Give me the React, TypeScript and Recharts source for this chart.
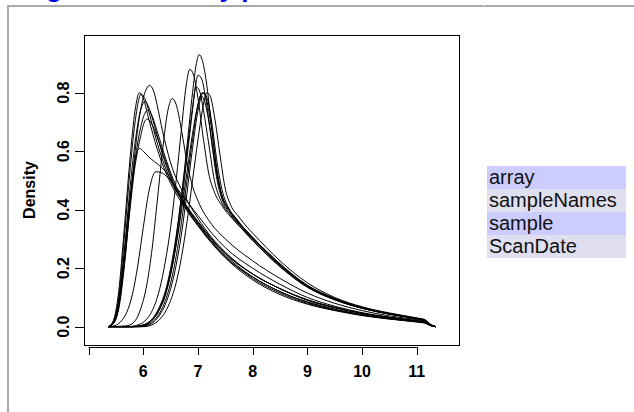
import React from 'react';
import { LineChart, Line, XAxis, YAxis, ReferenceLine } from 'recharts';

type Pt = [number, number];

// ---- density curves: [intensity, density] ----
const curve01: Pt[] = [[5.36,0],[5.45,0.02],[5.55,0.12],[5.65,0.33],[5.75,0.56],[5.85,0.74],[5.93,0.8],[6.0,0.78],[6.1,0.71],[6.25,0.61],[6.5,0.49],[6.75,0.41],[7.0,0.345],[7.25,0.29],[7.5,0.238],[8.0,0.17],[8.5,0.12],[9.0,0.083],[9.5,0.058],[10.0,0.04],[10.5,0.027],[11.0,0.017],[11.15,0.014],[11.25,0.004],[11.35,0]];
const curve02: Pt[] = [[5.36,0],[5.45,0.015],[5.55,0.1],[5.65,0.3],[5.75,0.52],[5.85,0.7],[5.96,0.795],[6.05,0.77],[6.15,0.7],[6.3,0.6],[6.5,0.5],[6.75,0.42],[7.0,0.355],[7.25,0.3],[7.5,0.25],[8.0,0.18],[8.5,0.13],[9.0,0.092],[9.5,0.066],[10.0,0.046],[10.5,0.031],[11.0,0.02],[11.15,0.016],[11.25,0.005],[11.35,0]];
const curve03: Pt[] = [[5.36,0],[5.45,0.01],[5.55,0.06],[5.65,0.2],[5.75,0.4],[5.85,0.6],[5.95,0.74],[6.05,0.81],[6.11,0.825],[6.18,0.81],[6.25,0.76],[6.35,0.67],[6.5,0.56],[6.75,0.45],[7.0,0.37],[7.25,0.305],[7.5,0.255],[8.0,0.18],[8.5,0.13],[9.0,0.092],[9.5,0.066],[10.0,0.046],[10.5,0.031],[11.0,0.019],[11.15,0.015],[11.25,0.005],[11.35,0]];
const curve04: Pt[] = [[5.36,0],[5.45,0.012],[5.55,0.08],[5.65,0.25],[5.75,0.46],[5.85,0.63],[5.95,0.74],[6.03,0.77],[6.1,0.75],[6.2,0.69],[6.35,0.59],[6.5,0.51],[6.75,0.42],[7.0,0.35],[7.25,0.29],[7.5,0.24],[8.0,0.165],[8.5,0.115],[9.0,0.08],[9.5,0.057],[10.0,0.04],[10.5,0.027],[11.0,0.017],[11.15,0.013],[11.25,0.004],[11.35,0]];
const curve05: Pt[] = [[5.36,0],[5.45,0.01],[5.55,0.07],[5.65,0.22],[5.75,0.41],[5.85,0.57],[5.95,0.68],[6.03,0.73],[6.08,0.74],[6.15,0.725],[6.25,0.67],[6.4,0.58],[6.6,0.48],[6.8,0.41],[7.0,0.355],[7.25,0.295],[7.5,0.245],[8.0,0.17],[8.5,0.12],[9.0,0.085],[9.5,0.06],[10.0,0.042],[10.5,0.028],[11.0,0.018],[11.15,0.014],[11.25,0.004],[11.35,0]];
const curve06: Pt[] = [[5.36,0],[5.45,0.01],[5.55,0.07],[5.65,0.21],[5.75,0.39],[5.85,0.55],[5.95,0.65],[6.02,0.7],[6.07,0.71],[6.15,0.695],[6.25,0.65],[6.4,0.57],[6.6,0.47],[6.8,0.4],[7.0,0.345],[7.25,0.285],[7.5,0.235],[8.0,0.16],[8.5,0.11],[9.0,0.077],[9.5,0.055],[10.0,0.038],[10.5,0.026],[11.0,0.016],[11.15,0.012],[11.25,0.004],[11.35,0]];
const curve07: Pt[] = [[5.36,0],[5.45,0.015],[5.55,0.09],[5.65,0.25],[5.75,0.43],[5.85,0.57],[5.93,0.61],[6.0,0.6],[6.1,0.58],[6.2,0.565],[6.3,0.55],[6.45,0.52],[6.6,0.47],[6.8,0.41],[7.0,0.36],[7.25,0.3],[7.5,0.25],[8.0,0.18],[8.5,0.13],[9.0,0.09],[9.5,0.064],[10.0,0.045],[10.5,0.03],[11.0,0.019],[11.15,0.015],[11.25,0.005],[11.35,0]];
const curve08: Pt[] = [[5.36,0],[5.5,0.005],[5.6,0.02],[5.7,0.05],[5.8,0.11],[5.9,0.21],[6.0,0.34],[6.1,0.46],[6.23,0.53],[6.35,0.525],[6.5,0.5],[6.75,0.44],[7.0,0.38],[7.25,0.32],[7.5,0.27],[8.0,0.2],[8.5,0.145],[9.0,0.1],[9.5,0.07],[10.0,0.048],[10.5,0.033],[11.0,0.021],[11.15,0.017],[11.25,0.005],[11.35,0]];
const curve09: Pt[] = [[5.36,0],[5.7,0.003],[5.85,0.02],[5.95,0.06],[6.05,0.13],[6.15,0.25],[6.25,0.42],[6.35,0.6],[6.45,0.74],[6.53,0.78],[6.6,0.76],[6.7,0.67],[6.8,0.56],[6.9,0.48],[7.0,0.43],[7.25,0.35],[7.5,0.3],[8.0,0.225],[8.5,0.165],[9.0,0.115],[9.5,0.08],[10.0,0.055],[10.5,0.037],[11.0,0.024],[11.15,0.019],[11.25,0.006],[11.35,0]];
const curve10: Pt[] = [[5.36,0],[5.7,0],[5.9,0.006],[6.0,0.015],[6.1,0.035],[6.2,0.07],[6.3,0.13],[6.4,0.22],[6.5,0.34],[6.6,0.5],[6.7,0.68],[6.78,0.82],[6.85,0.88],[6.92,0.86],[7.0,0.78],[7.1,0.64],[7.2,0.52],[7.3,0.46],[7.45,0.41],[7.6,0.375],[7.8,0.335],[8.0,0.295],[8.5,0.205],[9.0,0.135],[9.5,0.092],[10.0,0.063],[10.5,0.043],[11.0,0.027],[11.15,0.021],[11.25,0.007],[11.35,0]];
const curve11: Pt[] = [[5.36,0],[5.8,0],[6.0,0.004],[6.1,0.012],[6.2,0.03],[6.3,0.06],[6.4,0.11],[6.5,0.19],[6.6,0.3],[6.7,0.45],[6.8,0.62],[6.9,0.8],[6.97,0.9],[7.02,0.93],[7.08,0.91],[7.15,0.84],[7.25,0.68],[7.35,0.52],[7.45,0.44],[7.6,0.39],[7.8,0.345],[8.0,0.305],[8.5,0.215],[9.0,0.14],[9.5,0.095],[10.0,0.065],[10.5,0.045],[11.0,0.028],[11.15,0.022],[11.25,0.007],[11.35,0]];
const curve12: Pt[] = [[5.36,0],[5.8,0],[6.0,0.005],[6.1,0.013],[6.2,0.03],[6.3,0.06],[6.4,0.105],[6.5,0.18],[6.6,0.28],[6.7,0.42],[6.8,0.58],[6.9,0.74],[6.96,0.83],[7.0,0.86],[7.06,0.85],[7.15,0.77],[7.25,0.63],[7.35,0.5],[7.45,0.43],[7.6,0.385],[7.8,0.34],[8.0,0.3],[8.5,0.21],[9.0,0.138],[9.5,0.094],[10.0,0.064],[10.5,0.044],[11.0,0.028],[11.15,0.022],[11.25,0.007],[11.35,0]];
const curve13: Pt[] = [[5.36,0],[5.8,0],[6.0,0.006],[6.1,0.016],[6.2,0.035],[6.3,0.07],[6.4,0.12],[6.5,0.2],[6.6,0.31],[6.7,0.45],[6.8,0.6],[6.9,0.75],[6.96,0.82],[7.02,0.81],[7.1,0.74],[7.2,0.62],[7.3,0.5],[7.42,0.43],[7.6,0.38],[7.8,0.335],[8.0,0.295],[8.5,0.205],[9.0,0.135],[9.5,0.092],[10.0,0.063],[10.5,0.043],[11.0,0.027],[11.15,0.021],[11.25,0.007],[11.35,0]];
const curve14: Pt[] = [[5.36,0],[5.9,0],[6.1,0.006],[6.2,0.018],[6.3,0.04],[6.4,0.075],[6.5,0.13],[6.6,0.21],[6.7,0.32],[6.8,0.46],[6.9,0.61],[7.0,0.74],[7.1,0.8],[7.17,0.78],[7.25,0.7],[7.35,0.56],[7.45,0.46],[7.55,0.41],[7.7,0.37],[7.85,0.335],[8.0,0.305],[8.5,0.215],[9.0,0.142],[9.5,0.097],[10.0,0.066],[10.5,0.045],[11.0,0.029],[11.15,0.023],[11.25,0.008],[11.35,0]];
const curve15: Pt[] = [[5.36,0],[5.9,0],[6.1,0.008],[6.2,0.022],[6.3,0.047],[6.4,0.088],[6.5,0.15],[6.6,0.24],[6.7,0.36],[6.8,0.5],[6.9,0.64],[7.0,0.76],[7.08,0.8],[7.15,0.78],[7.23,0.7],[7.33,0.56],[7.43,0.455],[7.55,0.405],[7.7,0.365],[7.85,0.33],[8.0,0.3],[8.5,0.21],[9.0,0.138],[9.5,0.093],[10.0,0.063],[10.5,0.043],[11.0,0.027],[11.15,0.021],[11.25,0.007],[11.35,0]];
const curve16: Pt[] = [[5.36,0],[6.0,0],[6.2,0.01],[6.3,0.025],[6.4,0.05],[6.5,0.09],[6.6,0.15],[6.7,0.24],[6.8,0.36],[6.9,0.5],[7.0,0.64],[7.08,0.74],[7.16,0.8],[7.22,0.79],[7.3,0.72],[7.4,0.59],[7.5,0.47],[7.6,0.415],[7.75,0.375],[7.9,0.34],[8.0,0.32],[8.5,0.225],[9.0,0.15],[9.5,0.1],[10.0,0.068],[10.5,0.047],[11.0,0.03],[11.15,0.024],[11.25,0.008],[11.35,0]];
const curve17: Pt[] = [[5.36,0],[5.8,0],[6.0,0.006],[6.1,0.015],[6.2,0.033],[6.3,0.064],[6.4,0.11],[6.5,0.18],[6.6,0.28],[6.7,0.4],[6.8,0.53],[6.9,0.66],[7.0,0.76],[7.05,0.79],[7.12,0.77],[7.2,0.7],[7.3,0.57],[7.4,0.47],[7.5,0.42],[7.65,0.38],[7.8,0.345],[8.0,0.305],[8.5,0.21],[9.0,0.14],[9.5,0.095],[10.0,0.065],[10.5,0.044],[11.0,0.028],[11.15,0.022],[11.25,0.007],[11.35,0]];

const curves: Pt[][] = [curve01, curve02, curve03, curve04, curve05, curve06, curve07, curve08, curve09, curve10, curve11, curve12, curve13, curve14, curve15, curve16, curve17];

const xTicks = [5, 6, 7, 8, 9, 10, 11];
const xTickLabels = ['', '6', '7', '8', '9', '10', '11'];
const yTicks = [0, 0.2, 0.4, 0.6, 0.8];
const yTickLabels = ['0.0', '0.2', '0.4', '0.6', '0.8'];
const annotationRows = ['array', 'sampleNames', 'sample', 'ScanDate'];
const titleText = 'Figure 6: Density plots';
const yLabel = 'Density';

const X_DOMAIN: [number, number] = [4.934, 11.7715];
const Y_DOMAIN: [number, number] = [-0.06256, 0.9973];
const X_AXIS_LEVEL = -0.0711;

const FONT = '"Liberation Sans", Arial, Helvetica, sans-serif';

const seriesData = curves.map((c) => c.map(([x, y]) => ({ x, y })));

function XTick(props: any) {
  const { x, y, payload } = props;
  const i = xTicks.indexOf(payload.value);
  const label = i >= 0 ? xTickLabels[i] : '';
  const px = Math.round(x) + 0.5;
  return (
    <g>
      <line x1={px} x2={px} y1={y + 2} y2={y + 10} stroke="#000" strokeWidth={1} />
      <text x={x} y={y + 26} textAnchor="middle" dominantBaseline="central" fontFamily={FONT} fontWeight="bold" fontSize={16} fill="#000">
        {label}
      </text>
    </g>
  );
}

function YTick(props: any) {
  const { x, y, payload } = props;
  const i = yTicks.indexOf(payload.value);
  const label = i >= 0 ? yTickLabels[i] : '';
  const py = Math.round(y) + 0.5;
  return (
    <g>
      <line x1={x - 10} x2={x - 1} y1={py} y2={py} stroke="#000" strokeWidth={1} />
      <text transform={`translate(${x - 22},${y}) rotate(-90)`} textAnchor="middle" dominantBaseline="central" fontFamily={FONT} fontWeight="bold" fontSize={16} fill="#000">
        {label}
      </text>
    </g>
  );
}

export default function App() {
  return (
    <div style={{ position: 'absolute', left: 0, top: 0, width: 634, height: 412, overflow: 'hidden', background: '#fff' }}>
      <div style={{ position: 'absolute', left: 23, top: -25, fontFamily: FONT, fontWeight: 'bold', fontSize: 26, lineHeight: '26px', color: '#0000f0', whiteSpace: 'nowrap' }}>
        {titleText}
      </div>
      <div style={{ position: 'absolute', left: 7, top: 5, width: 627, height: 2, background: '#aaaaaa' }} />
      <div style={{ position: 'absolute', left: 483, top: 5, width: 1, height: 1, background: '#f4f4f4' }} />
      <div style={{ position: 'absolute', left: 7, top: 5, width: 2, height: 407, background: '#aaaaaa' }} />

      <div style={{ position: 'absolute', left: 0, top: 0 }}>
        <LineChart width={634} height={412} margin={{ top: 35, right: 175, bottom: 27, left: 25 }}>
          <XAxis
            dataKey="x"
            type="number"
            domain={X_DOMAIN}
            allowDataOverflow
            ticks={xTicks}
            interval={0}
            axisLine={false}
            tickLine={false}
            tickSize={0}
            tickMargin={0}
            height={40}
            tick={<XTick />}
          />
          <YAxis
            dataKey="y"
            type="number"
            domain={Y_DOMAIN}
            allowDataOverflow
            ticks={yTicks}
            interval={0}
            axisLine={false}
            tickLine={false}
            tickSize={0}
            tickMargin={0}
            width={60}
            tick={<YTick />}
          />
          <ReferenceLine
            segment={[{ x: xTicks[0], y: X_AXIS_LEVEL }, { x: xTicks[xTicks.length - 1], y: X_AXIS_LEVEL }]}
            ifOverflow="visible"
            stroke="#000"
            strokeWidth={1}
          />
          {seriesData.map((d, i) => (
            <Line key={i} data={d} dataKey="y" type="monotone" stroke="#000" strokeWidth={1} dot={false} activeDot={false} isAnimationActive={false} />
          ))}
        </LineChart>
      </div>

      <div style={{ position: 'absolute', left: 84, top: 35, width: 376, height: 311, border: '1px solid #000', boxSizing: 'border-box', pointerEvents: 'none' }} />

      <div style={{ position: 'absolute', left: 30, top: 190, transform: 'translate(-50%, -50%) rotate(-90deg)', fontFamily: FONT, fontWeight: 'bold', fontSize: 16, color: '#000', whiteSpace: 'nowrap' }}>
        {yLabel}
      </div>

      <div style={{ position: 'absolute', left: 487, top: 166, width: 139 }}>
        {annotationRows.map((r, i) => (
          <div key={r} style={{ height: 23, lineHeight: '23px', background: i % 2 === 0 ? '#ccccff' : '#dfdff0', fontFamily: FONT, fontSize: 20, color: '#111', paddingLeft: 2, whiteSpace: 'nowrap', overflow: 'hidden' }}>
            {r}
          </div>
        ))}
      </div>
    </div>
  );
}
